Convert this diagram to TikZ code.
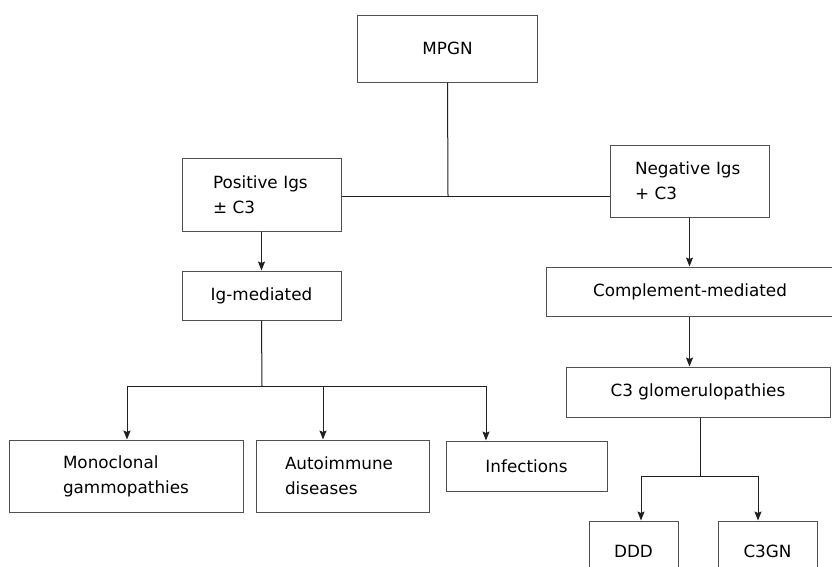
\documentclass[tikz,border=0pt]{standalone}
\usepackage{fontspec}
\setmainfont{DejaVu Sans}
\usetikzlibrary{arrows.meta}
\definecolor{boxline}{HTML}{505050}
\definecolor{conline}{HTML}{202020}
\tikzset{
  box/.style={draw=boxline, line width=1pt, rectangle, inner sep=0pt,
    font=\fontsize{16.8}{25}\selectfont, text=black},
  lbox/.style={box, align=left},
  con/.style={draw=conline, line width=1pt},
  arr/.style={con, -{Stealth[length=9pt,width=7pt,inset=1.5pt]}},
}
\begin{document}
\begin{tikzpicture}[x=1pt,y=-1pt]
\useasboundingbox (0,0) rectangle (832,566);
\clip (0,0) rectangle (832,566);
% boxes
\node[box, minimum width=180pt, minimum height=67pt] (mpgn) at (447.5,48.5) {MPGN};
\node[lbox, inner xsep=31pt, text width=97pt, minimum height=73pt] (pos) at (261.5,194.5) {Positive Igs\\± C3};
\node[lbox, inner xsep=25pt, text width=109pt, minimum height=72pt] (neg) at (689.5,181) {Negative Igs\\+ C3};
\node[box, minimum width=159pt, minimum height=49pt] (igm) at (261.5,295.5) {Ig-mediated};
\node[box, minimum width=300pt, minimum height=49pt] (comp) at (696,291.5) {\hspace*{-12pt}Complement-mediated};
\node[box, minimum width=264pt, minimum height=50pt] (c3g) at (698,392) {C3 glomerulopathies};
\node[lbox, inner xsep=54pt, text width=126pt, minimum height=72pt] (mono) at (126,476) {Monoclonal\\gammopathies};
\node[lbox, inner xsep=29pt, text width=115pt, minimum height=72pt] (auto) at (342.5,476) {Autoimmune\\diseases};
\node[box, minimum width=161pt, minimum height=50pt] (inf) at (526.5,466) {Infections};
\node[box, minimum width=89pt, minimum height=60pt] (ddd) at (633.5,551) {DDD};
\node[box, minimum width=99pt, minimum height=60pt] (c3gn) at (767.5,551) {C3GN};
% junctions
\coordinate (j1) at (448,196);
\coordinate (j2) at (262,386);
\coordinate (j2l) at (127,386);
\coordinate (j2m) at (323,386);
\coordinate (j2r) at (486,386);
\coordinate (j3) at (700,476);
\coordinate (j3l) at (641,476);
\coordinate (j3r) at (758,476);
% connectors
\draw[con] (mpgn.south) -- (j1);
\draw[con] (pos.east |- j1) -- (neg.west |- j1);
\draw[arr] (pos.south) -- (igm.north);
\draw[arr] (neg.south) -- (neg.south |- comp.north);
\draw[arr] (neg.south |- comp.south) -- (neg.south |- c3g.north);
\draw[con] (igm.south) -- (j2);
\draw[con] (j2l) -- (j2r);
\draw[arr] (j2l) -- (j2l |- mono.north);
\draw[arr] (j2m) -- (j2m |- auto.north);
\draw[arr] (j2r) -- (j2r |- inf.north);
\draw[con] (c3g.south -| j3) -- (j3);
\draw[con] (j3l) -- (j3r);
\draw[arr] (j3l) -- (j3l |- ddd.north);
\draw[arr] (j3r) -- (j3r |- c3gn.north);
\end{tikzpicture}
\end{document}
